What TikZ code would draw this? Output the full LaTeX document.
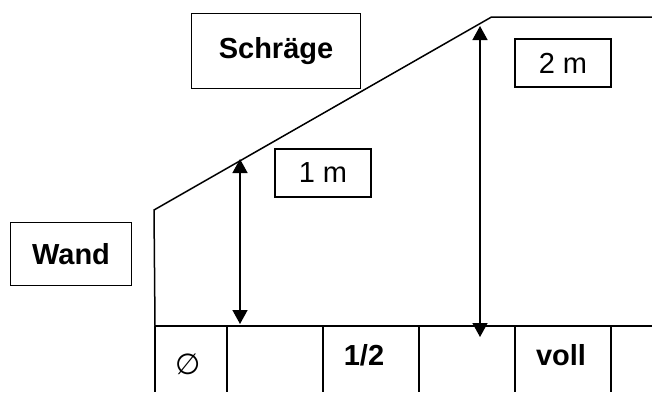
\documentclass[tikz,border=0pt]{standalone}
\usepackage{fontspec}
\setmainfont{Liberation Sans}
\newfontfamily\symfont{DejaVu Sans}
\usetikzlibrary{arrows.meta}
\begin{document}
\begin{tikzpicture}[x=1pt, y=-1pt, line width=1.5pt,
    every node/.style={font=\fontsize{29}{34}\selectfont, inner sep=0pt},
    labelbox/.style={draw, minimum width=96pt, minimum height=48pt},
    measure/.style={{Triangle[width=15pt,length=14pt]}-{Triangle[width=15pt,length=14pt]}}]
  \useasboundingbox (0,0) rectangle (652,392);
  % roof and wall
  \coordinate (walltop) at (154,210);
  \coordinate (wallfoot) at (155,326);
  \coordinate (ridge) at (491.5,17);
  \coordinate (ridgeend) at (652,17);
  \coordinate (floorend) at (652,326);
  \draw (wallfoot) -- (walltop) -- (ridge) -- (ridgeend);
  \draw (wallfoot) -- (floorend);
  % table cells
  \foreach \x in {155,227,323,419,515,611}
    \draw (\x,326) -- (\x,392);
  % labels
  \node [draw, minimum width=169pt, minimum height=75pt] (schraege) at (276,51) {\bfseries Schräge};
  \node [draw, minimum width=121pt, minimum height=63pt] (wand) at (71,254) {\bfseries Wand};
  \node [labelbox] (einm) at (323,173) {1 m};
  \node [labelbox] (zweim) at (563,63) {2 m};
  % heights
  \coordinate (h1top) at (240,159);
  \coordinate (h1foot) at (240,324);
  \coordinate (h2top) at (480,26);
  \coordinate (h2foot) at (480,337);
  \draw [measure] (h1top) -- (h1foot);
  \draw [measure] (h2top) -- (h2foot);
  % cell texts
  \node (leer) at (188,364) {\symfont ∅};
  \node [anchor=base] (halb) at (364,365) {\bfseries 1/2};
  \node [anchor=base] (voll) at (561,365) {\bfseries voll};
\end{tikzpicture}
\end{document}
